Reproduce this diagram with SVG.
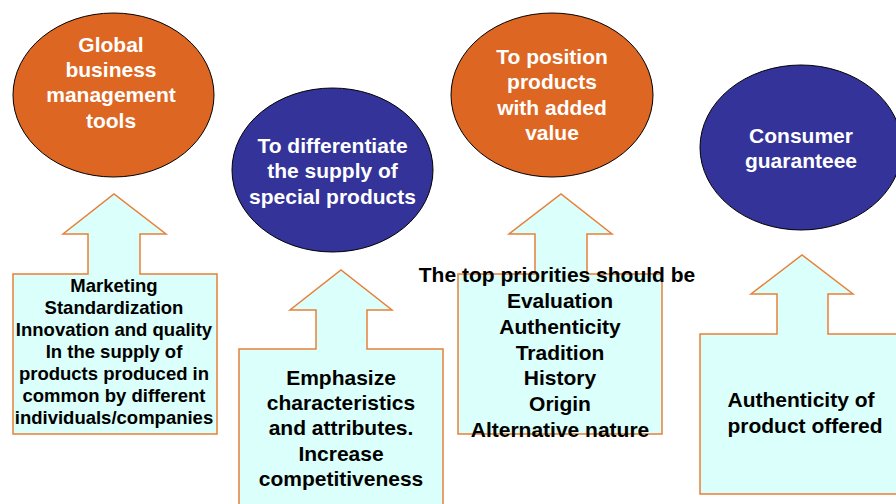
<svg xmlns="http://www.w3.org/2000/svg" width="896" height="504" viewBox="0 0 896 504">
<style>
.bg{fill:#ffffff}
.orange{fill:#DD6622;stroke:#000000;stroke-width:1}
.blue{fill:#333399;stroke:#000000;stroke-width:1}
.arrow{fill:#DBFFFA;stroke:#E8803A;stroke-width:1.5;stroke-linejoin:miter}
text{font-family:"Liberation Sans",Arial,sans-serif;font-weight:bold;text-anchor:middle}
.wt{fill:#ffffff;font-size:21px}
.bt{fill:#000000;font-size:21px}
.st{fill:#000000;font-size:18.5px}
</style>
<rect class="bg" x="0" y="0" width="896" height="504"/>
<g id="connectors">
  <path id="arrow1" class="arrow" d="M13,274 H88 V234 H63 L114,194 L166,234 H140 V274 H217 V434 H13 Z"/>
  <path id="arrow2" class="arrow" d="M239,349 H316 V310 H290 L341,270 L392,310 H367 V349 H443 V512 H239 Z"/>
  <path id="arrow3" class="arrow" d="M458,274 H535 V234 H509 L561,194 L612,234 H587 V274 H662 V434 H458 Z"/>
  <path id="arrow4" class="arrow" d="M700,334 H777 V294 H751 L802,255 L853,294 H828 V334 H904 V494 H700 Z"/>
</g>
<g id="node-global">
  <ellipse class="orange" cx="113.5" cy="95" rx="100.5" ry="82"/>
  <text class="wt" x="111" y="52">Global</text>
  <text class="wt" x="111" y="77">business</text>
  <text class="wt" x="111" y="102">management</text>
  <text class="wt" x="111" y="128">tools</text>
</g>
<g id="node-differentiate">
  <ellipse class="blue" cx="332.5" cy="170" rx="100.5" ry="82"/>
  <text class="wt" x="332.5" y="153">To differentiate</text>
  <text class="wt" x="332.5" y="178">the supply of</text>
  <text class="wt" x="332.5" y="204">special products</text>
</g>
<g id="node-position">
  <ellipse class="orange" cx="552" cy="95" rx="101" ry="82"/>
  <text class="wt" x="552" y="64">To position</text>
  <text class="wt" x="552" y="89">products</text>
  <text class="wt" x="552" y="115">with added</text>
  <text class="wt" x="552" y="140">value</text>
</g>
<g id="node-consumer">
  <ellipse class="blue" cx="801" cy="147.5" rx="101" ry="82.5"/>
  <text class="wt" x="801" y="143">Consumer</text>
  <text class="wt" x="801" y="168">guaranteee</text>
</g>
<g id="node-marketing">
  <text class="st" x="114" y="292">Marketing</text>
  <text class="st" x="114" y="314">Standardization</text>
  <text class="st" x="114" y="336">Innovation and quality</text>
  <text class="st" x="114" y="358">In the supply of</text>
  <text class="st" x="114" y="380">products produced in</text>
  <text class="st" x="114" y="402">common by different</text>
  <text class="st" x="114" y="424">individuals/companies</text>
</g>
<g id="node-emphasize">
  <text class="bt" x="341" y="385">Emphasize</text>
  <text class="bt" x="341" y="410">characteristics</text>
  <text class="bt" x="341" y="435">and attributes.</text>
  <text class="bt" x="341" y="461">Increase</text>
  <text class="bt" x="341" y="486">competitiveness</text>
</g>
<g id="node-priorities">
  <text class="bt" x="557" y="282">The top priorities should be</text>
  <text class="bt" x="560" y="308">Evaluation</text>
  <text class="bt" x="560" y="334">Authenticity</text>
  <text class="bt" x="560" y="360">Tradition</text>
  <text class="bt" x="560" y="385">History</text>
  <text class="bt" x="560" y="411">Origin</text>
  <text class="bt" x="560" y="437">Alternative nature</text>
</g>
<g id="node-authenticity">
  <text class="bt" x="801" y="407">Authenticity of</text>
  <text class="bt" x="805" y="433">product offered</text>
</g>
</svg>
